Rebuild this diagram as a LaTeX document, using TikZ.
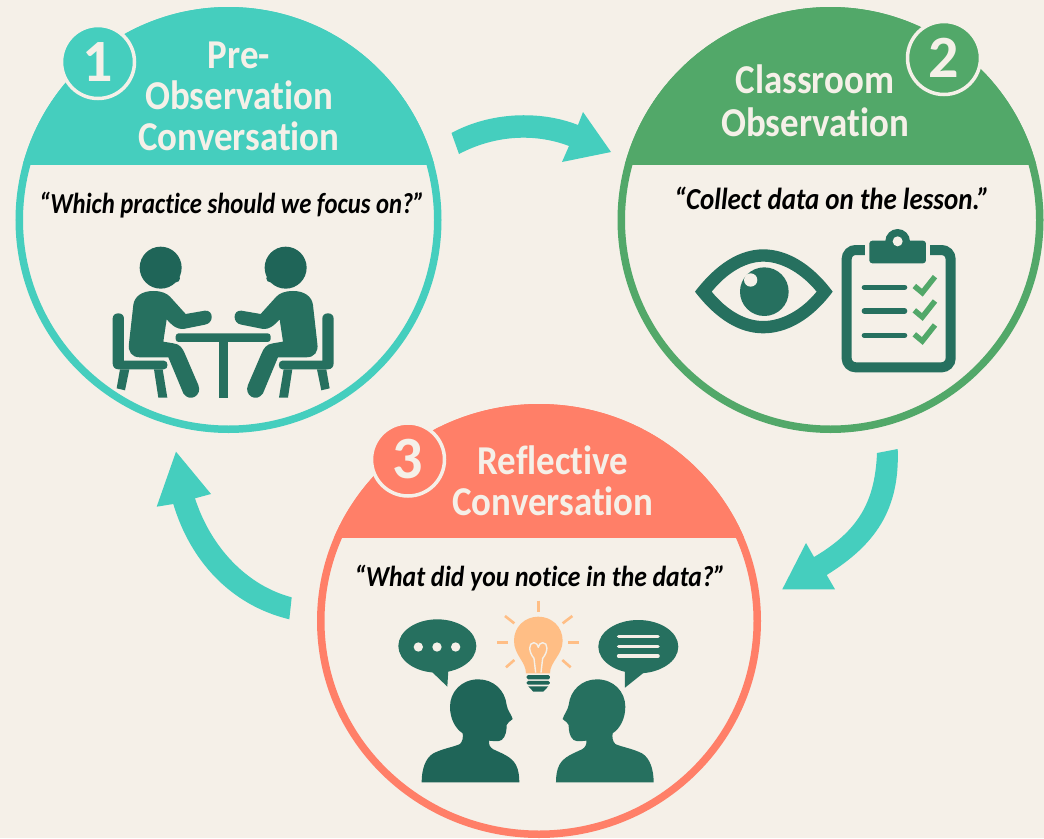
\documentclass[tikz,border=0pt]{standalone}
\usepackage{fontspec}
\setmainfont{Carlito}
\newfontfamily\headfont[FakeStretch=0.90,Ligatures=NoCommon]{Carlito}
\newfontfamily\quotefont[FakeStretch=0.85,Ligatures=NoCommon]{Carlito}
\newfontfamily\quotefontb[FakeStretch=0.885,Ligatures=NoCommon]{Carlito}
\definecolor{paper}{HTML}{F5F0E8}
\definecolor{tealc}{HTML}{45CEBE}
\definecolor{greenc}{HTML}{52A869}
\definecolor{coralc}{HTML}{FF7F68}
\definecolor{icondark}{HTML}{1F6558}
\definecolor{iconmid}{HTML}{26705F}
\definecolor{bulbc}{HTML}{FFBE85}
\tikzset{
  headtext/.style={text=paper,align=center,inner sep=0pt,font=\headfont\bfseries\fontsize{41}{41}\selectfont},
  quotetext/.style={text=black,anchor=base,inner sep=0pt,font=\quotefont\bfseries\itshape\fontsize{29}{30}\selectfont},
  quotetextb/.style={quotetext,font=\quotefontb\bfseries\itshape\fontsize{29}{30}\selectfont},
  quotetextc/.style={quotetext,font=\quotefontb\bfseries\itshape\fontsize{30.5}{31}\selectfont},
  numtext/.style={text=paper,inner sep=0pt,font=\bfseries\fontsize{60}{60}\selectfont},
  arrowshape/.style={fill=tealc,draw=none},
  creamline/.style={draw=paper,line cap=round},
}
\newcommand{\zoneCircle}[7]{% x y rx ry bandbottom colour name
  \coordinate (#7) at (#1,#2);
  \begin{scope}
    \clip (#7) ellipse[x radius=#3,y radius=#4];
    \fill[paper] (#1-300,#2-300) rectangle (#1+300,#2+300);
    \fill[#6] (#1-300,#2-300) rectangle (#1+300,#5);
  \end{scope}
  \draw[#6,line width=7.5pt] (#7) ellipse[x radius=#3-3.75,y radius=#4-3.75];
}
\newcommand{\badge}[5]{% name x y colour number
  \node[circle,fill=#4,draw=paper,line width=3.5pt,minimum size=73pt,inner sep=0pt] (#1) at (#2,#3) {};
  \node[numtext] (#1n) at (#2,#3) {#5};
}
\newcommand{\seatedperson}{%
  \fill[icondark] (212,113) circle[radius=63];
  \fill[icondark] (258,145) circle[radius=12];
  \fill[iconmid] (190,183) .. controls (215,183) and (230,190) .. (240,200) -- (287,252) -- (345,242)
     .. controls (372,240) and (372,280) .. (345,284) -- (280,297) .. controls (262,298) and (250,290) .. (230,268)
     -- (220,335) -- (250,340) .. controls (270,342) and (278,355) .. (285,372) -- (325,465)
     .. controls (338,495) and (300,520) .. (280,490) -- (235,382) -- (150,382)
     .. controls (125,382) and (113,365) .. (117,340) -- (130,225) .. controls (133,200) and (155,183) .. (190,183) -- cycle;
  \fill[iconmid] (85,250) .. controls (95,250) and (102,256) .. (102,266) -- (102,392) -- (222,392)
     .. controls (236,392) and (236,418) .. (222,418) -- (85,418) .. controls (74,418) and (68,410) .. (68,400)
     -- (68,266) .. controls (68,256) and (75,250) .. (85,250) -- cycle;
  \fill[iconmid] (90,418) -- (80,475) -- (105,481) -- (118,418) -- cycle;
  \fill[iconmid] (192,418) -- (205,503) -- (232,503) -- (218,418) -- cycle;
}
\newcommand{\talker}[1]{%
  \fill[#1] (95,577) .. controls (95,540) and (105,505) .. (130,490) .. controls (160,475) and (195,470) .. (210,462)
     .. controls (218,455) and (220,440) .. (218,430) .. controls (195,415) and (180,385) .. (180,350)
     .. controls (180,305) and (215,268) .. (265,268) .. controls (310,268) and (345,300) .. (350,345)
     .. controls (352,360) and (365,375) .. (368,387) .. controls (360,395) and (352,397) .. (350,405)
     .. controls (350,420) and (348,440) .. (335,450) .. controls (325,456) and (310,453) .. (297,452)
     .. controls (296,465) and (300,472) .. (310,478) .. controls (335,490) and (365,500) .. (378,525)
     .. controls (386,540) and (388,560) .. (388,577) -- cycle;
}
\newcommand{\checkmk}[1]{%
  \draw[greenc,line width=5.5pt,line join=miter] (703,#1) -- (727,#1+20) -- (765,#1-28);
}
\begin{document}
\begin{tikzpicture}[x=1pt,y=-1pt]
\useasboundingbox (0,0) rectangle (1044,838);
\fill[paper] (0,0) rectangle (1044,838);

% circles
\zoneCircle{228.5}{220}{213}{213}{165}{tealc}{c1}
\zoneCircle{830.5}{220}{213}{213}{165}{greenc}{c2}
\zoneCircle{539}{621}{222}{217}{538}{coralc}{c3}

% arrows
\fill[arrowshape] (451.5,133) .. controls (490,112) and (540,110) .. (578,125) -- (583,112) -- (611,152) -- (562,162) -- (569,146) .. controls (535,133) and (495,135) .. (459,154) -- cycle;
\fill[arrowshape] (877,453) .. controls (875,500) and (860,530) .. (814,557) -- (806,543) -- (782.3,589.3) -- (835,589.3) -- (826.7,575) .. controls (875,545) and (900,510) .. (897.7,449) -- cycle;
\fill[arrowshape] (291.7,597.3) .. controls (245,585) and (210,545) .. (195,498.3) -- (211,494) -- (176,451.7) -- (156.7,506.7) -- (173.3,504) .. controls (190,560) and (230,605) .. (289.3,619.3) -- cycle;

% badges
\badge{b1}{98}{62}{tealc}{1}
\badge{b2}{944}{58}{greenc}{2}
\badge{b3}{408}{459.5}{coralc}{3}

% headings
\node[headtext] (h1) at (239,96) {Pre-\\Observation\\Conversation};
\node[headtext] (h2) at (815,101) {Classroom\\[2pt]Observation};
\node[headtext] (h3) at (553,481) {Reflective\\Conversation};

% quotes
\node[quotetext] (q1) at (232,213.5) {“Which practice should we focus on?”};
\node[quotetextc] (q2) at (832,209.5) {“Collect data on the lesson.”};
\node[quotetextb] (q3) at (540,586) {“What did you notice in the data?”};

% icon 1: conversation at a table
\begin{scope}[shift={(90,230)},x=0.3333pt,y=-0.3333pt]
  \seatedperson
  \begin{scope}[shift={(799,0)},xscale=-1]
    \seatedperson
  \end{scope}
  \fill[iconmid,rounded corners=3pt] (257,310) rectangle (542,336);
  \fill[iconmid] (386,336) rectangle (415,503);
\end{scope}

% icon 2: eye and clipboard
\begin{scope}[shift={(680,220)},x=0.3333pt,y=-0.3333pt]
  \fill[iconmid,even odd rule] (45,215) .. controls (110,130) and (180,88) .. (250,88) .. controls (320,88) and (395,130) .. (458,215)
     .. controls (395,300) and (320,340) .. (250,340) .. controls (180,340) and (110,300) .. (45,215) -- cycle
     (95,215) .. controls (140,270) and (195,303) .. (250,303) .. controls (305,303) and (365,270) .. (410,215)
     .. controls (365,160) and (305,125) .. (250,125) .. controls (195,125) and (140,160) .. (95,215) -- cycle;
  \fill[iconmid] (253,215) circle[radius=73];
  \fill[paper] (212,180) circle[radius=20];
  \draw[iconmid,line width=10pt,rounded corners=9pt] (500,90) rectangle (812,442);
  \fill[paper] (555,50) rectangle (750,138);
  \fill[iconmid,rounded corners=3pt] (568,62) rectangle (738,130);
  \fill[iconmid] (653,64) circle[radius=37];
  \fill[paper] (653,64) circle[radius=15];
  \foreach \yy in {202,273,346}{
    \draw[iconmid,line width=5.3pt,line cap=round] (553,\yy) -- (674,\yy);
  }
  \checkmk{198}
  \checkmk{271}
  \checkmk{343}
\end{scope}

% icon 3: two talkers and a bulb
\begin{scope}[shift={(390,590)},x=0.3333pt,y=-0.3333pt]
  \fill[iconmid] (142,168) ellipse[x radius=117,y radius=80];
  \fill[iconmid] (120,240) -- (172,290) -- (175,240) -- cycle;
  \foreach \xx in {85,141,197}{\fill[paper] (\xx,171) circle[radius=14];}
  \fill[iconmid] (745,170) ellipse[x radius=120,y radius=80];
  \fill[iconmid] (705,240) -- (705,293) -- (765,245) -- cycle;
  \foreach \yy in {140,169,198}{\draw[creamline,line width=3.6pt] (686,\yy) -- (804,\yy);}
  \talker{icondark}
  \begin{scope}[shift={(886,0)},xscale=-1]
    \talker{iconmid}
  \end{scope}
  % bulb
  \fill[bulbc] (408,250) .. controls (408,215) and (372,195) .. (372,152) .. controls (372,110) and (405,80) .. (445,80)
     .. controls (485,80) and (518,110) .. (518,152) .. controls (518,195) and (480,215) .. (480,250) -- cycle;
  \draw[paper,line width=1.4pt,line join=round] (437,248) -- (432,205) .. controls (415,185) and (415,158) .. (432,158) .. controls (440,158) and (443,165) .. (445,172)
     .. controls (447,165) and (450,158) .. (458,158) .. controls (475,158) and (475,185) .. (458,205) -- (453,248);
  \fill[icondark,rounded corners=1.5pt] (410,255) rectangle (480,268);
  \fill[icondark,rounded corners=1.5pt] (410,273) rectangle (480,284);
  \fill[icondark] (415,289) -- (475,289) -- (460,305) -- (430,305) -- cycle;
  \foreach \xa/\ya/\xb/\yb in {445/32/445/65,345/78/373/100,518/100/547/78,322/158/355/158,535/158/568/158,348/232/373/210,517/210/542/232}{
    \draw[bulbc,line width=2.6pt] (\xa,\ya) -- (\xb,\yb);
  }
\end{scope}
\end{tikzpicture}
\end{document}
